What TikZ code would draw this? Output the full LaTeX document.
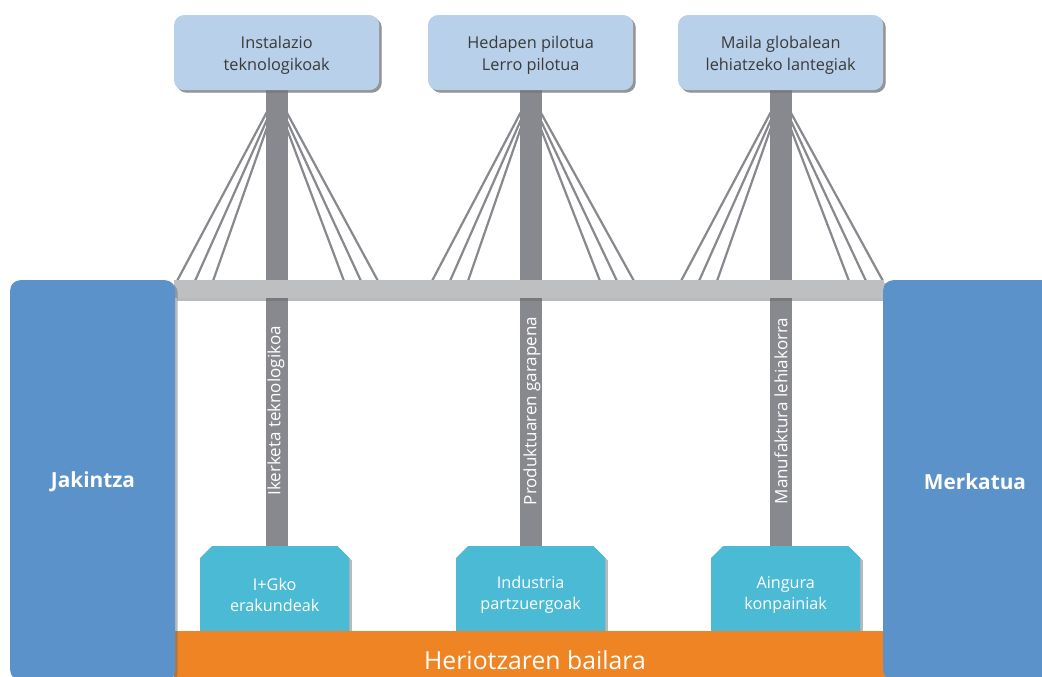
\documentclass[tikz,border=0pt]{standalone}
\usepackage{fontspec}
\setmainfont{Open Sans}
\usetikzlibrary{shadows,calc}
\definecolor{topblue}{HTML}{B8D0EA}
\definecolor{sideblue}{HTML}{5B92CA}
\definecolor{towergray}{HTML}{88898E}
\definecolor{deckgray}{HTML}{BEBFC1}
\definecolor{cyanbox}{HTML}{4BBAD5}
\definecolor{orangebar}{HTML}{EE8424}
\definecolor{txtgray}{HTML}{3A3A3A}
\tikzset{
  shad/.style={drop shadow={shadow xshift=2.5pt, shadow yshift=-2.5pt, opacity=0.45, fill=black!60}},
  topbox/.style={fill=topblue, rounded corners=10pt, shad, anchor=north west,
    minimum width=205pt, minimum height=75pt, inner sep=0pt},
  toptext/.style={align=center, text=txtgray, font=\fontsize{16.3}{22}\selectfont},
  sidebox/.style={fill=sideblue, rounded corners=10pt, shad, anchor=north west,
    minimum width=165pt, minimum height=400pt, inner sep=0pt},
  sidetext/.style={text=white, font=\fontsize{20.8}{24}\selectfont\bfseries},
  tower/.style={draw=towergray, line width=22pt},
  towertext/.style={rotate=90, text=white, font=\fontsize{17}{18}\selectfont},
  cable/.style={draw=towergray, line width=2.2pt},
  cyanarea/.style={anchor=north west, minimum width=149pt, minimum height=85pt, inner sep=0pt},
  cyantext/.style={text=white, align=center, font=\fontsize{16.2}{21}\selectfont},
}
\begin{document}
\begin{tikzpicture}[x=1pt,y=-1pt]
\useasboundingbox (0,0) rectangle (1042,677);
\clip (0,0) rectangle (1042,677);

% invisible anchors for the cyan boxes
\node[cyanarea] (c1) at (200,546) {};
\node[cyanarea] (c2) at (456,546) {};
\node[cyanarea] (c3) at (711,546) {};

% top boxes (frames)
\node[topbox] (t1) at (174,15) {};
\node[topbox] (t2) at (428,15) {};
\node[topbox] (t3) at (678,15) {};

% deck attachment coordinates
\coordinate (d1a) at (177,281); \coordinate (d1b) at (195,281); \coordinate (d1c) at (213,281);
\coordinate (d1d) at (344,281); \coordinate (d1e) at (361,281); \coordinate (d1f) at (378,281);
\coordinate (d2a) at (432,281); \coordinate (d2b) at (450,281); \coordinate (d2c) at (468,281);
\coordinate (d2d) at (600,281); \coordinate (d2e) at (617,281); \coordinate (d2f) at (634,281);
\coordinate (d3a) at (681,281); \coordinate (d3b) at (699,281); \coordinate (d3c) at (717,281);
\coordinate (d3d) at (849,281); \coordinate (d3e) at (866,281); \coordinate (d3f) at (883,281);

% cables
\foreach \t/\d in {t1/d1,t2/d2,t3/d3}{
  \draw[cable] ($(\t.south)+(-10,22)$) -- (\d a);
  \draw[cable] ($(\t.south)+(-10,30)$) -- (\d b);
  \draw[cable] ($(\t.south)+(-10,38)$) -- (\d c);
  \draw[cable] ($(\t.south)+(10,38)$) -- (\d d);
  \draw[cable] ($(\t.south)+(10,30)$) -- (\d e);
  \draw[cable] ($(\t.south)+(10,22)$) -- (\d f);
}

% towers
\draw[tower] ($(t1.south)+(0,-1)$) -- ($(t1.south |- c1.north)+(0,1)$);
\draw[tower] ($(t2.south)+(0,-1)$) -- ($(t2.south |- c2.north)+(0,1)$);
\draw[tower] ($(t3.south)+(0,-1)$) -- ($(t3.south |- c3.north)+(0,1)$);
% top boxes over tower tops, with their texts
\node[topbox] at (174,15) {};
\node[topbox] at (428,15) {};
\node[topbox] at (678,15) {};
\node[toptext] (tt1) at ($(t1.center)+(0,3)$) {Instalazio\\teknologikoak};
\node[toptext] (tt2) at ($(t2.center)+(0,3)$) {Hedapen pilotua\\Lerro pilotua};
\node[toptext] (tt3) at ($(t3.center)+(0,3)$) {Maila globalean\\lehiatzeko lantegiak};

% deck
\fill[deckgray, shad] (174,280) rectangle (884,298);

% tower labels
\node[towertext] (l1) at (276,411) {Ikerketa teknologikoa};
\node[towertext] (l2) at (532,411) {Produktuaren garapena};
\node[towertext] (l3) at (781,411) {Manufaktura lehiakorra};

% cyan boxes
\foreach \c in {c1,c2,c3}{
  \fill[cyanbox, shad] (\c.south west) -- ($(\c.north west)+(0,12)$) -- ($(\c.north west)+(12,0)$)
     -- ($(\c.north east)+(-12,0)$) -- ($(\c.north east)+(0,12)$) -- (\c.south east) -- cycle;
}
\node[cyantext] at ($(c1.center)+(0,6)$) {I+Gko\\erakundeak};
\node[cyantext] at ($(c2.center)+(0,6)$) {Industria\\partzuergoak};
\node[cyantext] at ($(c3.center)+(0,6)$) {Aingura\\konpainiak};

% orange valley
\node[fill=orangebar, anchor=north west, minimum width=712pt, minimum height=50pt, inner sep=0pt] (valley) at (174,631) {};
\node[text=white, font=\fontsize{24.8}{28}\selectfont] (vtext) at (535,660) {Heriotzaren bailara};

% side boxes
\node[sidebox] (jak) at (10,280) {};
\node[sidetext] at (93,482) {Jakintza};
\node[sidebox, minimum width=180pt] (mer) at (883,280) {};
\node[sidetext] at (975,482) {Merkatua};
\end{tikzpicture}
\end{document}
